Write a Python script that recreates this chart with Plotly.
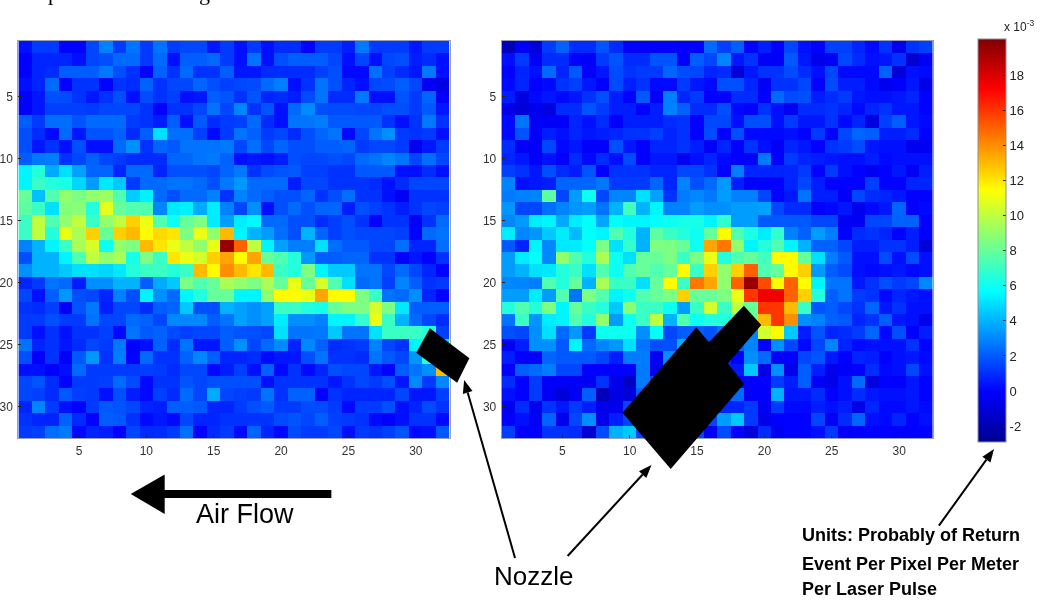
import math
import plotly.graph_objects as go

W, H = 1044, 600
cols = list(range(1, 33))
rows = list(range(1, 33))
ticks_xy = [5, 10, 15, 20, 25, 30]
ticks_cb = [-2, 0, 2, 4, 6, 8, 10, 12, 14, 16, 18]
ticks_cb_text = ["-2", "0", "2", "4", "6", "8", "10", "12", "14", "16", "18"]
units_lines = ["Units: Probably of Return", "Event Per Pixel Per Meter", "Per Laser Pulse"]

left_read = [
[.2,.8,.8,0,0,1,2.5,.8,2,.8,2,.8,1,1,.3,.8,.2,.8,.2,.6,.6,0,.8,.8,.4,2.2,.8,.8,.8,.3,.8,.8],
[0,.5,.5,.5,.2,1,1.2,1.8,1.8,.8,1.8,.2,1.5,1.5,1.8,.8,.2,2,.2,1.2,1.5,1.5,1.5,1,.2,1,.2,1,1.2,.4,.6,.2],
[0,.5,.6,1.5,1.5,1.5,2.2,1.2,.7,0,1.6,.7,1.8,.7,.7,1.5,.3,.3,.6,.6,.6,.6,.9,1.2,.1,.1,1.9,.9,.6,.3,2.2,.2],
[.2,.5,1.8,0,.7,.7,0,.7,.6,1.6,.7,1,1,1.7,1.2,.9,1,1.1,1.8,2.4,.2,.7,2,1.2,.5,.2,1,1.1,1.5,1,-.3,-.7],
[0,.3,1.2,1.1,.7,.3,.7,1.2,.2,1.1,.7,.9,.2,.3,1.5,1.3,.7,1.3,.5,.6,.4,1.1,2,.6,.6,2.2,.2,.2,1.3,.8,1.7,-.2],
[0,.3,.9,.9,.9,.8,1,1,1,.7,0,.7,.7,1,2,1,2.6,.7,1.3,.2,1.8,2.9,1.2,1.1,1.1,1,1,1.2,1.2,.8,1.4,.3],
[1.5,.8,1.9,1.9,1.3,1.8,1.8,1.8,.8,.7,.4,1.5,.2,1.4,.6,.8,.9,1.8,.6,.2,2,2.1,2.4,1.4,1.4,1.4,1.4,.7,.2,.7,2.2,.7],
[1.2,.6,.1,1.8,.3,1.3,1.3,1.6,.6,1.5,5,1.9,1.9,.9,.1,.8,2,1.6,.8,1,.6,1.2,1.7,2,.1,1,2,3,.8,.7,.8,.2],
[1.2,.3,.7,.2,1.2,.2,.2,1.8,3,.7,1.7,1.4,2,2,2,2.2,1,1.9,1,1.7,1.2,1.2,1.5,1.5,1.7,.8,1,1,.8,-.4,.3,.8],
[1.5,2.2,2.4,.7,1,1.6,1,.8,.6,.6,.6,1.7,1.7,2,2.2,1.6,.2,.3,.2,.4,1.2,1,1,1.2,1,1.8,2,2.6,2,1,1.9,1],
[5.5,6.5,3.8,5,3.6,1.7,1.7,.5,1.8,1.8,.5,1.2,1.2,1.2,1,1.7,2.2,.7,1.1,1.3,1.4,.9,.9,.7,.7,1.4,1.4,1.4,.2,.2,.6,.2],
[5.5,7,6.5,6.2,4.8,3.5,5.2,4.5,.8,1.8,1.8,2,2,1.8,1.2,2.2,3.3,1.8,1.8,1.8,.4,1,1,.7,.7,.7,.6,.2,.6,1,1,1],
[8,4.3,7.5,9,8.5,9,9.2,7.5,4.6,5.4,1.8,1.2,1.8,1.8,2.5,.7,2.5,1.8,1.5,1.2,1.2,1.7,.7,1.2,1.9,.7,.7,.2,-.3,.7,.7,.7],
[7.8,7,5,8.7,8.8,6.5,10.8,8,7.5,7.5,2.7,5.2,5.4,3.8,5.3,2.5,1,3,.2,1.2,1.8,1.2,1.7,1.7,.4,1.2,.9,.7,.4,.7,1,.9],
[7,10,7.5,9,10,7,9,10,12.5,11,7.5,6,8,8.5,5.3,3.5,5.3,5.6,1.8,1.8,1.2,1.2,.6,.9,1.2,.7,0,.7,.7,-.2,.7,1.8],
[7,10,6.5,11,9.5,12.5,8,12.5,13,11.5,12.3,12,8.5,11,9,13,5.5,4,3.5,1.9,1.2,4,1.7,.9,1.2,1,1,1,.9,0,1.8,2],
[2.5,4,5.5,7,9.5,10.5,6,9,8.5,13,12,11,10,9,11,19.5,15,10,5.5,3.6,2.4,2.4,5,1.9,1.4,1.4,1,1,1.9,.5,.5,1.9],
[1.2,4,4,5.5,7.5,10,9,9.5,6.2,8.5,7,12,11,10.5,12.5,13.5,11.5,13.5,8,7.5,6.5,3.3,1.5,1.5,1.7,1.7,.7,.7,0,.3,0,.7],
[3,4,4,4.5,5,5,4.8,5.2,6.5,7,7,6.5,7,13,11.5,14,13,12,13,7,6.5,8.5,5.5,4.5,4.5,2,2,1,1.8,1,.5,0],
[.5,.8,2,1.8,.4,3,3,4,4,1.5,3.8,4.5,8.5,7.5,8,9.5,9,8.5,9.5,8,11,8,10.5,7.5,5,1.8,2,.9,2.6,1.5,.7,.8],
[1,.2,1.5,3.3,1.2,1,.5,2.5,1.2,5.5,3,1.8,5.5,6.5,8,8,5.5,5.5,9,11.5,11.5,11,13.5,11.5,11.5,8.5,7,2,1.8,3,.5,0],
[.7,.6,.9,-.2,1.3,2.2,.4,1,1,.6,1.5,1.7,4.5,1.2,1.2,4,3.6,3,3.6,7,7,6.5,6.2,8,8.5,8.5,10.5,8.5,5.2,1.5,1.5,1.5],
[.8,.8,1.2,.8,.8,2,1,1,1.8,1.6,1,2.8,2.8,2.8,1.5,2,3.6,3,3.6,5.3,3,3,2.5,5.5,5.5,6.8,11,7,4,1.8,1,.6],
[.8,.2,.7,.2,.7,.7,.9,.1,2,1.4,1.6,1.1,.9,1,1,1.5,1.3,1.2,1,5,2,2,2.2,4.5,2,2,5,7,7,7,6.5,.9],
[2,.5,.7,.3,.6,1,.8,2.2,0,.2,1.6,.6,2,.3,.3,1.5,3,1,1.8,2.8,.5,2.8,1.6,.6,.7,.8,2.5,1,.7,5.5,6.5,5],
[1.2,-.1,.7,-.2,1.4,3.3,.7,2.4,0,1.8,.7,.7,1.6,2.7,1.5,.5,.5,.6,.1,.3,.3,1.2,2,.7,.7,.6,2,1.4,1,3.2,6.5,6],
[.2,.2,-.1,.2,1.8,.8,.8,.8,.8,.9,.8,.6,1,1,.1,.4,.9,.2,1.6,.1,.7,.1,.5,1.2,1,1,.3,0,1.5,2,3,13],
[1,1.3,.6,0,.8,.8,.9,1.8,1.1,.1,.7,.7,1.3,1,1.2,1.2,1.2,1.2,.2,.7,.7,.7,.7,.3,.7,1,.8,1.2,.3,2.8,.8,2.8],
[1,.9,.6,1.4,.9,.8,.2,1.2,.4,.1,.9,.6,1.8,1,3.8,1,.9,.8,2,.7,1.6,1.6,-.1,.7,.5,.5,.5,.5,1,.3,.3,.9],
[.5,2.6,.8,.2,0,.8,1.4,1.3,1,.5,.4,1.5,1.5,1.4,.5,.5,.8,1.2,1.4,.8,.8,1.1,1.1,.8,.1,.8,.8,1.2,.2,.5,1.1,.7],
[.7,.5,.5,1.6,.6,0,1.5,1.4,.7,.1,.3,.1,1,.5,.5,.7,.7,.7,.7,1.1,1.3,1,1.5,.9,.8,.7,.1,-.1,.2,.7,.7,.1],
[.8,.9,1.9,2.3,.1,.5,.4,0,1,.6,.6,.8,1.9,0,.6,.8,.1,1.7,.5,.1,1.1,.8,.8,1,.2,.8,.7,.9,1.3,.1,.2,1.4],
]

right_read = [
[-1.8,-.2,-1,.8,1.6,.6,.6,1.3,.6,-.1,-.1,0,0,-.1,-.1,1.8,.9,1.5,0,.4,-.1,1,.2,0,.9,.9,.5,.1,.7,-.5,.7,.9],
[.2,.8,-.2,.6,.6,0,-.2,.8,1.3,.6,.6,1.3,1.3,-.1,1.5,1,2.6,.3,.7,-.2,-.2,1.4,.3,-.5,-.2,1,.6,.2,.3,.7,-1.2,-.3],
[0,.5,.2,1.8,.5,1.4,-.1,.3,1.1,.7,.8,.8,1.7,1.1,1,.5,.6,-1,.3,.7,.7,1.1,.6,.2,1,.1,.1,.1,1.6,-1,.2,.1],
[.1,.5,-.1,.1,.7,.9,.3,-.1,1.1,.4,.7,.1,.1,.8,.3,.1,1.2,1.2,.5,-.2,.7,.7,1,0,1.1,.4,.4,.1,-.4,-.1,.3,-.6],
[.4,-.8,.1,.3,.1,.3,.7,1.2,.4,0,1.4,-.3,2.4,.5,.8,-.1,0,.6,.6,0,1.8,1.1,1.2,.4,.6,.8,.3,.2,.2,.3,.5,0],
[-.6,-1,-.4,-.8,.6,.6,1.3,.8,.4,.4,0,.4,2.5,1.6,.6,.6,1.2,.1,0,.7,.2,-.3,.6,.6,.7,.5,.1,.5,.7,.3,.3,0],
[.1,2,-.3,-.2,-.2,.5,.2,.6,-.1,.4,.4,.4,.6,.7,-.1,1,1,.2,1.2,1.2,.2,.8,.3,.3,.7,.1,.5,-.8,.9,1.5,.3,.1],
[.1,1.3,-.2,.4,.2,.5,.3,.4,.5,.7,.7,.9,.5,.7,-.1,1.1,0,1.2,.1,.1,.1,.2,0,.8,0,1,1.7,1.5,.4,.4,.6,0],
[.6,-.2,-.2,1,.1,.3,-.1,-.1,1.2,.3,-.1,.5,.5,.7,.4,-.2,.5,-.1,.7,.2,-.2,.5,.3,0,.7,.8,1.1,.3,.2,.2,-.4,-.3],
[.5,.3,-.2,.2,-.1,.6,.1,.6,.2,1.1,-.1,.3,.3,-.4,.2,.5,.1,-.1,-.1,2.2,-.1,.8,.5,.4,.3,.2,.2,.4,.1,.2,.2,.2],
[.9,.7,.3,1.2,.6,.4,1.3,0,.7,.7,.7,.5,.5,1,1,.7,0,2.4,.5,.5,.5,.5,.8,0,.8,.2,0,-.3,0,.3,-.2,.4],
[2.6,.2,.3,.4,1.7,1.7,1.7,2.2,.8,.8,.8,1.7,.5,2.6,1.2,1.8,3.4,.4,0,0,0,.5,1,.4,0,0,0,.9,0,0,.5,.5],
[2.3,2.5,2.6,7.8,1,3.5,6,1,2.6,2.6,5,3.6,.7,2.3,2.8,2.2,3.5,2.5,2.5,1,0,.3,2,.4,.4,-.2,1,.6,.5,.3,0,0],
[3.2,1,1,1.9,2.6,3.2,3.5,2,4,7.2,4,5.5,2.5,2.5,3.5,3,3,3.5,3.5,3.6,1,.6,.6,-.1,.1,.3,-.4,.1,.3,1.7,-.1,.1],
[2.7,3.4,5.3,5.5,3.8,5.3,5.8,3.7,5.8,5.5,5.5,5.8,6,6.2,6.2,5.5,6.8,3.5,3.5,1.4,1.4,1.4,1.4,1,1,-.3,-.3,1,1,1.6,1.6,-.1],
[5.3,2.7,3.2,4.5,5.3,4.2,5.8,5.5,7.5,6.5,4,7.8,7,6.5,6,8,11.5,7.5,6.3,5.3,6.8,2.5,1.6,3.5,2.4,0,.6,.7,.5,0,.4,-.1],
[1.4,.5,5.5,2.8,5.2,5.3,5.8,8.5,5,6.8,4,8.5,8.5,8,6,13.5,14.5,9,5.5,6.5,7.5,5.5,4,1.6,1.6,1,.4,.4,.7,.7,.4,-1],
[3.5,5.3,5.8,2.8,9,7.5,6.5,9.5,6,5,8,8,8.5,7,8.5,11,6.5,7.5,8,7.2,11.5,11.5,8,5,2.4,1.4,.2,.2,1.1,.2,1.1,.2],
[3.5,4,5,5.2,6.5,7,5,7.5,6,7.5,8,7.5,8,11.5,7,12.5,9,12.5,15,7.5,8,11.5,12.5,3.4,1.5,1.1,.2,.1,.2,.3,.1,.2],
[2.7,2.6,2.4,7.5,6.5,8,4,9.5,7,7,5,8,11.5,7,14.5,13.5,9,15,19.5,15.5,11.5,15,11.5,5.5,2,2,.3,.7,1.2,.8,1,2.8],
[3.5,3.5,5.3,3.5,7.5,2,8.5,7.5,5.5,6,7.5,8,8.5,12.5,8,8,8.5,11,16,17.5,17.5,15,12.5,6.5,1.5,2,.8,.7,.1,.5,.3,.2],
[6.5,7.5,6.5,8.5,5.5,8,7,6.5,4.5,8.8,7,7,6,3.5,7,10.5,7,10,8,16,16,13,7,1.3,1.5,1,.7,1.7,.3,.7,.2,.2],
[2,7,3.2,5.3,5.5,7.5,6.5,9,3.5,6,7,10,4,7.5,6,6.5,6.5,7.5,8,13,16,14,3,2.5,1.6,1.4,.5,.7,1.5,.3,.2,-.5],
[1.2,1,3,5,1.8,3.3,.8,6,6,6,3,5.8,1,1.5,1.5,1.3,2,2,2.6,10.5,11.5,4.5,.4,1.3,.5,.6,.8,1.7,.1,1.2,-.1,.4],
[-.3,.4,3,3,1.4,5.5,1.8,2.6,3.3,5,2,1.2,1.2,4,2,1,1.5,1.6,2.6,0,3,1,.1,1,2.6,.5,.1,.2,.2,.2,.7,0],
[.4,-.1,-.1,1.7,1.4,1.4,1.4,1,.4,2.3,2.4,-.4,3,2,1,.5,.5,0,3,1.8,-.2,-.1,1,1.3,.3,0,.5,.4,0,.2,.3,.1],
[-.1,1.5,1.8,2.4,1,1,-.1,-.1,-.1,0,2.3,-.5,2,1,1,1,.5,.3,4.5,-.7,3,-.6,1.5,.4,-.5,-.2,-.1,.6,.1,.2,1,.2],
[.6,0,.8,-.2,-.2,-.3,-.3,.7,-.5,-1.5,2.3,1,1,1,1,1,0,0,0,0,.8,.4,1.5,-.2,-.6,.2,1.8,-.8,0,-.1,.3,0],
[.2,0,.8,-.3,-.9,-.3,1.5,-1.8,-.7,-1,1.5,1,1,1,1,1,1,1.8,-.1,-.1,4,.3,.3,.6,0,.2,.6,.3,.2,.2,.3,0],
[-.3,.6,-.4,.7,.3,.8,.4,-.5,-.5,1,1,1,1,1,1,1,.5,.5,.8,-.3,.8,.1,.1,.4,.2,.4,-.6,.5,.1,.1,.3,.1],
[-.1,.2,-.3,1.7,-.4,1,3,-.6,.4,1,1,1,1,1,1,1,3.5,4.5,.8,-.6,-.1,0,0,1,-.2,.6,1.7,.2,.1,.5,0,.2],
[.9,-.1,-.1,.7,.7,.6,-1.2,1.1,4,4.5,1,1,1,1,1,-.3,1.1,-.1,-.9,.6,-.4,0,0,.2,.8,-.2,-.1,0,0,-.1,0,0],
]
assert all(len(r) == 32 for r in left_read + right_read) and len(left_read) == len(right_read) == 32


def calibrate(v):
    # my colour readings of the blues ran low against the colour bar
    if v <= 0 or v >= 3.5:
        return v
    return v + 0.55 * min(1.0, v, (3.5 - v) / 1.5)


left_z = [[calibrate(v) for v in r] for r in left_read]
right_z = [[calibrate(v) for v in r] for r in right_read]

jet = [[0, "rgb(0,0,143)"], [.125, "rgb(0,0,255)"], [.375, "rgb(0,255,255)"],
       [.625, "rgb(255,255,0)"], [.875, "rgb(255,0,0)"], [1, "rgb(128,0,0)"]]
SANS = "Liberation Sans"


def PX(x): return x / W
def PY(y): return 1 - y / H


fig = go.Figure()
common = dict(colorscale=jet, zmin=-2.9, zmax=20.05, hoverinfo="skip")
fig.add_trace(go.Heatmap(z=left_z, x=cols, y=rows, xaxis="x", yaxis="y", showscale=False, **common))
fig.add_trace(go.Heatmap(z=right_z, x=cols, y=rows, xaxis="x2", yaxis="y2", showscale=True,
    colorbar=dict(x=PX(978), xanchor="left", xpad=0, ypad=0, y=PY(240.5), yanchor="middle",
                  thickness=28, thicknessmode="pixels", len=403, lenmode="pixels",
                  tickvals=ticks_cb, ticktext=ticks_cb_text, ticks="inside", ticklen=3, tickcolor="#222",
                  outlinecolor="#8a8f99", outlinewidth=1,
                  tickfont=dict(family=SANS, size=13, color="#222")),
    **common))

ax = dict(range=[.5, 32.5], tickvals=ticks_xy, ticks="inside", ticklen=3, tickcolor="#222",
          showline=True, mirror=True, linecolor="#9aa0b0", linewidth=1, showgrid=False, zeroline=False,
          ticklabelstandoff=2, tickfont=dict(family=SANS, size=12, color="#333"))
ay = dict(ax, range=[32.5, .5])

fig.update_layout(
    width=W, height=H, margin=dict(l=0, r=0, t=0, b=0), paper_bgcolor="white", plot_bgcolor="white",
    xaxis=dict(ax, domain=[PX(16.4), PX(448.4)], anchor="y"),
    yaxis=dict(ay, domain=[PY(438), PY(41)], anchor="x"),
    xaxis2=dict(ax, domain=[PX(500.6), PX(932.6)], anchor="y2"),
    yaxis2=dict(ay, domain=[PY(438), PY(41)], anchor="x2"),
)


def poly(points):
    d = "M " + " L ".join(f"{PX(x):.5f},{PY(y):.5f}" for x, y in points) + " Z"
    return dict(type="path", xref="paper", yref="paper", path=d, fillcolor="black", line=dict(width=0))


def arrow(x0, y0, x1, y1, head=13, half=5):
    L = math.hypot(x1 - x0, y1 - y0)
    ux, uy = (x1 - x0) / L, (y1 - y0) / L
    bx, by = x1 - ux * head, y1 - uy * head
    line = dict(type="line", xref="paper", yref="paper", x0=PX(x0), y0=PY(y0), x1=PX(bx), y1=PY(by),
                line=dict(color="black", width=2))
    tip = poly([(x1, y1), (bx - uy * half, by + ux * half), (bx + uy * half, by - ux * half)])
    return [line, tip]


fig.update_layout(shapes=[
    poly([(428.7, 328.3), (468.3, 358.3), (456, 382.7), (415, 352.7)]),
    poly([(695.7, 327.3), (708.3, 342.3), (743.3, 305.7), (760.7, 325), (727.3, 363.3),
          (743.3, 384), (670, 469), (621.7, 412.7)]),
    poly([(129, 494), (163, 474.5), (163, 490), (330, 490), (330, 498), (163, 498), (163, 514)]),
    *arrow(514, 558, 463, 380),
    *arrow(566.7, 556, 650.7, 465),
    *arrow(938.7, 525.7, 993.9, 449),
])


def label(txt, x, y, size, anchor="left", bold=False, family=SANS, color="black"):
    fig.add_annotation(text=f"<b>{txt}</b>" if bold else txt, xref="paper", yref="paper", x=PX(x), y=PY(y),
                       xanchor=anchor, yanchor="middle", showarrow=False,
                       font=dict(family=family, size=size, color=color))


label("Air Flow", 192, 514, 27)
label("Nozzle", 491, 576, 26)
for txt, yy in zip(units_lines, [535, 564, 589]):
    label(txt, 800, yy, 18, bold=True)
label("x 10<sup>-3</sup>", 1002, 26, 12, color="#222")
label("p", 44, -7, 22, family="Liberation Serif")
label("g", 195, -7, 22, family="Liberation Serif")

fig.write_html("out.html", config=dict(displayModeBar=False),
               post_script="document.body.style.margin='0';document.body.style.filter='blur(0.6px)';")
